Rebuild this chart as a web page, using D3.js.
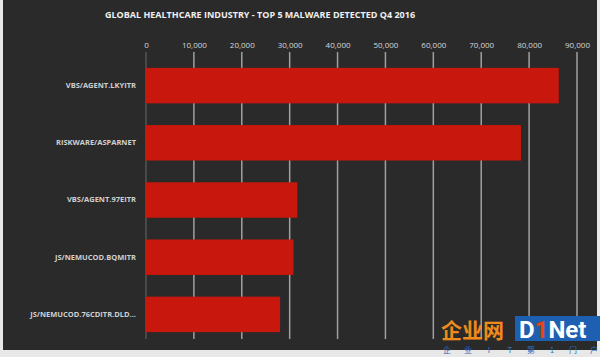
<!DOCTYPE html>
<html><head><meta charset="utf-8">
<script src="https://cdn.jsdelivr.net/npm/d3@7"></script>
<style>body{margin:0;background:#fff}svg{display:block}</style>
</head><body>
<script>
const title = "GLOBAL HEALTHCARE INDUSTRY - TOP 5 MALWARE DETECTED Q4 2016";
const categories = ["VBS/AGENT.LKYITR","RISKWARE/ASPARNET","VBS/AGENT.97EITR","JS/NEMUCOD.BQMITR","JS/NEMUCOD.76CDITR.DLD..."];
const values = [86200, 78300, 31600, 30800, 28000];
const ticks = [0,10000,20000,30000,40000,50000,60000,70000,80000,90000];
const footerChars = ["企","业","I","T","第","1","门","户"];

const W=600,H=357;
const svg=d3.select("body").append("svg").attr("width",W).attr("height",H);
// frame
svg.append("rect").attr("x",0).attr("y",0).attr("width",W).attr("height",H).attr("fill","#e8e8e8");
svg.append("rect").attr("x",3).attr("y",0).attr("width",594).attr("height",350).attr("fill","#2a2a2a");

const x=d3.scaleLinear().domain([0,90000]).range([146,577]);
const y=d3.scaleBand().domain(categories).range([57,343]).paddingInner(0.38).paddingOuter(0.19);

// gridlines
const g=svg.append("g");
g.selectAll("line.grid").data(ticks).join("line")
 .attr("x1",d=>x(d)).attr("x2",d=>x(d)).attr("y1",52).attr("y2",339)
 .attr("stroke",d=>d===0?"#555":"#a0a0a0").attr("stroke-width",1.5);

// top axis labels
const ax=d3.axisTop(x).tickValues(ticks).tickFormat(d3.format(",")).tickSize(0).tickPadding(0);
const axg=svg.append("g").attr("transform","translate(0,48)").call(ax);
axg.select(".domain").remove();
axg.selectAll("text").attr("fill","#d8d8d8").attr("font-family","'Open Sans',sans-serif").attr("font-size","8px");

// bars
svg.selectAll("rect.bar").data(categories).join("rect").attr("class","bar")
 .attr("x",x(0)).attr("y",d=>y(d)).attr("height",y.bandwidth())
 .attr("width",(d,i)=>x(values[i])-x(0)).attr("fill","#c8170c");

// category labels
const ay=d3.axisLeft(y).tickSize(0).tickPadding(10);
const ayg=svg.append("g").attr("transform",`translate(${x(0)},0)`).call(ay);
ayg.select(".domain").remove();
ayg.selectAll("text").attr("fill","#d0d0d0").attr("font-family","'Open Sans',sans-serif").attr("font-size","7.5px").attr("font-weight","bold");

// title
svg.append("text").attr("x",260).attr("y",18).attr("text-anchor","middle")
 .attr("fill","#f0f0f0").attr("font-family","'Open Sans',sans-serif").attr("font-weight","bold").attr("font-size","9px").text(title);

// watermark
const wm=svg.append("g");
wm.append("text").attr("x",441).attr("y",338).attr("fill","#f08a1c").attr("font-family","'Noto Sans CJK SC',sans-serif").attr("font-weight","bold").attr("font-size","21px").text("企业网");
wm.append("rect").attr("x",515).attr("y",316).attr("width",85).attr("height",25).attr("fill","#1d5fb0");
const t=wm.append("text").attr("x",519).attr("y",338).attr("fill","#fff").attr("font-family","Roboto,sans-serif").attr("font-weight","bold").attr("font-size","24px");
t.append("tspan").text("D");
t.append("tspan").attr("fill","#e8401a").text("1");
t.append("tspan").text("Net");
wm.selectAll("text.foot").data(footerChars).join("text").attr("class","foot")
 .attr("x",(d,i)=>447+i*21).attr("y",353).attr("text-anchor","middle")
 .attr("fill","#2a6ec0").attr("font-family","'Noto Sans CJK SC',sans-serif").attr("font-size","8px").text(d=>d);
</script>
</body></html>
